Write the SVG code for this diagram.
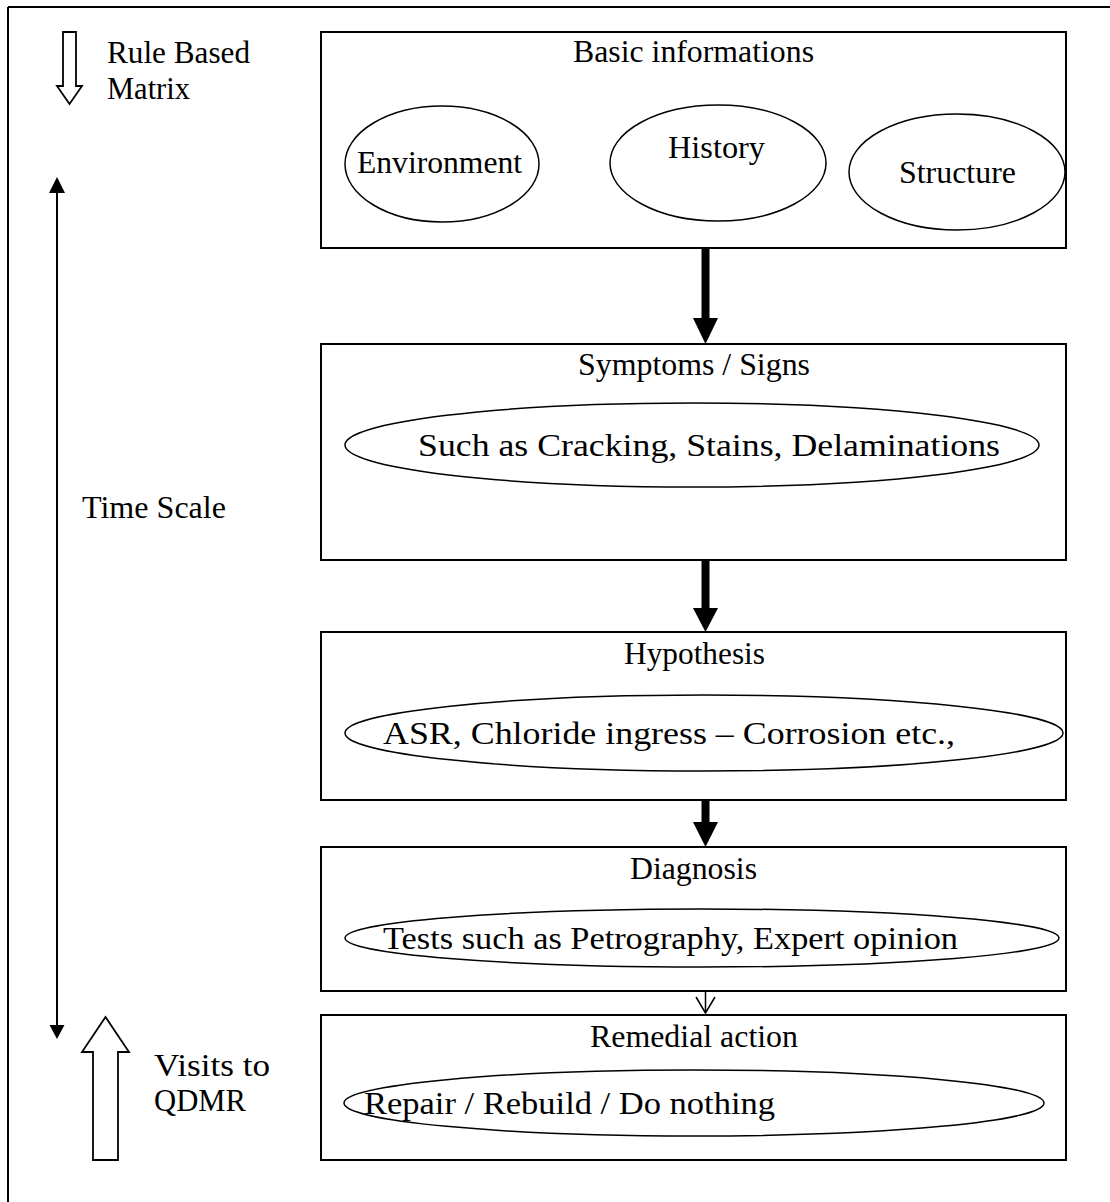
<svg xmlns="http://www.w3.org/2000/svg" width="1110" height="1202" viewBox="0 0 1110 1202">
<style>
text{font-family:"Liberation Serif","Times New Roman",serif;font-size:31px;fill:#000}
.big{font-size:32px}
.box{fill:#fff;stroke:#000;stroke-width:2}
.ell{fill:#fff;stroke:#000;stroke-width:1.5}
.open{fill:#fff;stroke:#000;stroke-width:1.8;stroke-linejoin:miter}
.solid{fill:#000;stroke:none}
.thin{stroke:#000;stroke-width:2;fill:none}
</style>
<rect width="1110" height="1202" fill="#fff"/>
<g id="frame">
<path d="M8,7 H1110 M8,7 V1202" class="thin"/>
</g>
<g id="legend">
<polygon class="open" points="63,32 76,32 76,86 82,86 69.5,104 57,86 63,86"/>
<text x="107" y="63" textLength="143" lengthAdjust="spacingAndGlyphs">Rule Based</text>
<text x="107" y="99" textLength="83" lengthAdjust="spacingAndGlyphs">Matrix</text>
<line x1="57" y1="192" x2="57" y2="1026" class="thin"/>
<polygon class="solid" points="57,177 49,193 65,193"/>
<polygon class="solid" points="57,1039 49.5,1025 64.5,1025"/>
<text x="82" y="518" textLength="144" lengthAdjust="spacingAndGlyphs">Time Scale</text>
<polygon class="open" points="105.5,1017 129,1052 118,1052 118,1160 93,1160 93,1052 82,1052"/>
<text x="154" y="1076" textLength="116" lengthAdjust="spacingAndGlyphs">Visits to</text>
<text x="154" y="1111" textLength="92" lengthAdjust="spacingAndGlyphs">QDMR</text>
</g>
<g id="basic">
<rect class="box" x="321" y="32" width="745" height="216"/>
<text x="573" y="62" textLength="241" lengthAdjust="spacingAndGlyphs">Basic informations</text>
<ellipse class="ell" cx="442" cy="164" rx="97" ry="58"/>
<text x="357" y="173" textLength="165" lengthAdjust="spacingAndGlyphs">Environment</text>
<ellipse class="ell" cx="718" cy="163" rx="108" ry="58"/>
<text x="668" y="158" textLength="97" lengthAdjust="spacingAndGlyphs">History</text>
<ellipse class="ell" cx="957" cy="172" rx="108" ry="58"/>
<text x="899" y="183" textLength="117" lengthAdjust="spacingAndGlyphs">Structure</text>
</g>
<g id="symptoms">
<rect class="box" x="321" y="344" width="745" height="216"/>
<text x="578" y="375" textLength="232" lengthAdjust="spacingAndGlyphs">Symptoms / Signs</text>
<ellipse class="ell" cx="692" cy="445" rx="347" ry="42"/>
<text class="big" x="418" y="456" textLength="582" lengthAdjust="spacingAndGlyphs">Such as Cracking, Stains, Delaminations</text>
</g>
<g id="hypothesis">
<rect class="box" x="321" y="632" width="745" height="168"/>
<text x="624" y="664" textLength="141" lengthAdjust="spacingAndGlyphs">Hypothesis</text>
<ellipse class="ell" cx="704" cy="733" rx="359" ry="38"/>
<text class="big" x="383" y="744" textLength="572" lengthAdjust="spacingAndGlyphs">ASR, Chloride ingress – Corrosion etc.,</text>
</g>
<g id="diagnosis">
<rect class="box" x="321" y="847" width="745" height="144"/>
<text x="630" y="879" textLength="127" lengthAdjust="spacingAndGlyphs">Diagnosis</text>
<ellipse class="ell" cx="702" cy="938" rx="357" ry="29"/>
<text class="big" x="383" y="949" textLength="575" lengthAdjust="spacingAndGlyphs">Tests such as Petrography, Expert opinion</text>
</g>
<g id="remedial">
<rect class="box" x="321" y="1015" width="745" height="145"/>
<text x="590" y="1047" textLength="208" lengthAdjust="spacingAndGlyphs">Remedial action</text>
<ellipse class="ell" cx="694" cy="1103" rx="350" ry="33"/>
<text class="big" x="364" y="1114" textLength="411" lengthAdjust="spacingAndGlyphs">Repair / Rebuild / Do nothing</text>
</g>
<g id="connectors">
<rect class="solid" x="701.5" y="248" width="8" height="71"/>
<polygon class="solid" points="693,318 718,318 705.5,344"/>
<rect class="solid" x="701.5" y="560" width="8" height="49"/>
<polygon class="solid" points="693,608 718,608 705.5,632"/>
<rect class="solid" x="701.5" y="800" width="8" height="23"/>
<polygon class="solid" points="693,822 718,822 705.5,847"/>
<line x1="705.5" y1="991" x2="705.5" y2="1013" stroke="#000" stroke-width="1.5"/>
<polyline points="696,997 705.5,1013 715,997" fill="none" stroke="#000" stroke-width="1.5"/>
</g>
</svg>
